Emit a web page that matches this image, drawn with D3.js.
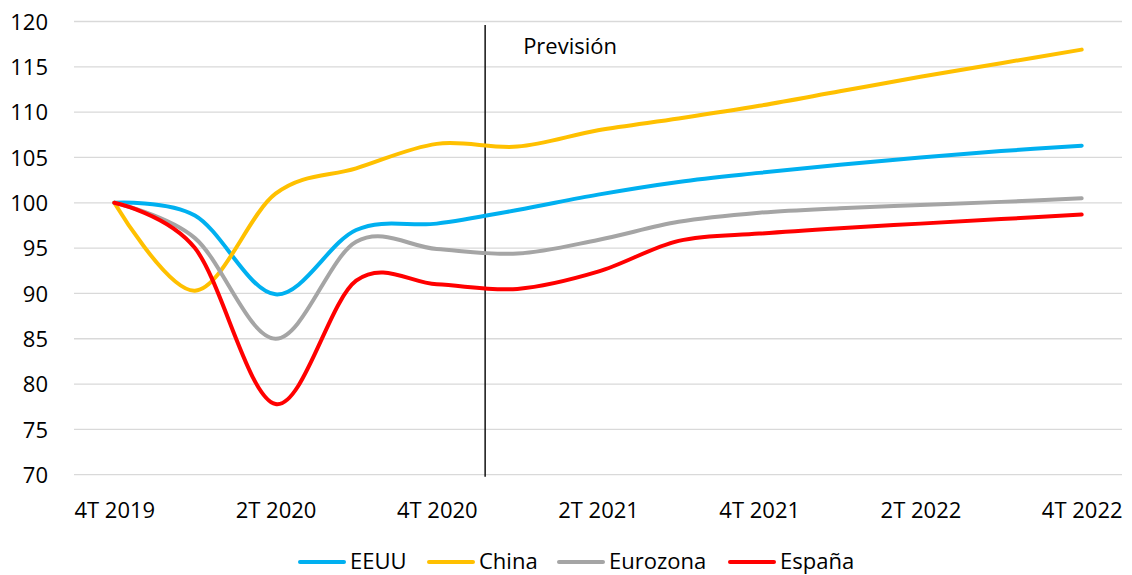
<!DOCTYPE html>
<html><head><meta charset="utf-8">
<script src="https://cdn.jsdelivr.net/npm/d3@7"></script>
<style>body{margin:0;background:#fff}svg{display:block}text{font-family:"Open Sans",sans-serif;fill:#000}</style>
</head><body><svg id="c" width="1132" height="575"></svg>
<script>
const categories = ["4T 2019","1T 2020","2T 2020","3T 2020","4T 2020","1T 2021","2T 2021","3T 2021","4T 2021","1T 2022","2T 2022","3T 2022","4T 2022"];
const tickLabels = ["4T 2019","2T 2020","4T 2020","2T 2021","4T 2021","2T 2022","4T 2022"];
const yTicks = [70,75,80,85,90,95,100,105,110,115,120];
const eeuu     = [100, 98.6, 89.9, 97.0, 97.7, 99.2, 100.9, 102.3, 103.3, 104.2, 105.0, 105.7, 106.3];
const china    = [100, 90.3, 101.0, 103.8, 106.5, 106.2, 108.0, 109.3, 110.7, 112.3, 113.9, 115.4, 116.9];
const eurozona = [100, 96.1, 85.0, 95.7, 94.9, 94.4, 95.9, 97.9, 98.9, 99.4, 99.75, 100.1, 100.5];
const espana   = [100, 95.0, 77.8, 91.4, 91.0, 90.5, 92.4, 95.8, 96.6, 97.2, 97.7, 98.2, 98.7];
const seriesNames = ["EEUU","China","Eurozona","España"];
const seriesColors = ["#00B0F0","#FFC000","#A5A5A5","#FF0000"];
const forecastLabel = "Previsión";

const series = [eeuu, china, eurozona, espana];
const svg = d3.select("#c");
const L = 74, R = 1122, T = 21.5, B = 474.7;
const FS = "22px";
const x = d3.scalePoint().domain(categories).range([L, R]).padding(0.5);
const y = d3.scaleLinear().domain([70,120]).range([B, T]);

// gridlines
svg.append("g").selectAll("line").data(yTicks).join("line")
  .attr("x1", L).attr("x2", R).attr("y1", d=>y(d)).attr("y2", d=>y(d))
  .attr("stroke", "#D9D9D9").attr("stroke-width", 1.3);

// y axis labels
const yAxis = d3.axisLeft(y).tickValues(yTicks).tickSize(0).tickPadding(0);
const gy = svg.append("g").attr("transform", "translate(48,0)").call(yAxis);
gy.select(".domain").remove();
gy.selectAll("text").style("font-family","'Open Sans',sans-serif").style("font-size",FS).attr("fill","#000").attr("dy","0.35em");

// x axis labels
const xAxis = d3.axisBottom(x).tickValues(tickLabels).tickSize(0).tickPadding(0);
const gx = svg.append("g").attr("transform", `translate(0,${B})`).call(xAxis);
gx.select(".domain").remove();
gx.selectAll("text").style("font-family","'Open Sans',sans-serif").style("font-size",FS).attr("fill","#000").attr("y", 43).attr("dy", 0);

// forecast line
const step = x.step();
const fx = x("4T 2020") + step * 0.6;
svg.append("line").attr("x1", fx).attr("x2", fx).attr("y1", 25).attr("y2", B + 2)
  .attr("stroke", "#111").attr("stroke-width", 1.5);
svg.append("text").attr("x", fx + 38).attr("y", 54).style("font-size",FS).text(forecastLabel);

// series lines
const line = d3.line().x((d,i)=>x(categories[i])).y(d=>y(d)).curve(d3.curveCardinal.tension(0));
series.forEach((s, k) => {
  svg.append("path").datum(s).attr("d", line).attr("fill","none")
    .attr("stroke", seriesColors[k]).attr("stroke-width", 4)
    .attr("stroke-linecap","round").attr("stroke-linejoin","round");
});

// legend
const legendX = [300, 429, 559, 730];
const LY = 561;
const lg = svg.append("g");
seriesNames.forEach((n,k) => {
  lg.append("line").attr("x1", legendX[k]).attr("x2", legendX[k]+44).attr("y1", LY+1).attr("y2", LY+1)
    .attr("stroke", seriesColors[k]).attr("stroke-width", 4).attr("stroke-linecap","round");
  lg.append("text").attr("x", legendX[k]+50).attr("y", LY).attr("dy","0.35em").style("font-size",FS).text(n);
});
</script></body></html>
